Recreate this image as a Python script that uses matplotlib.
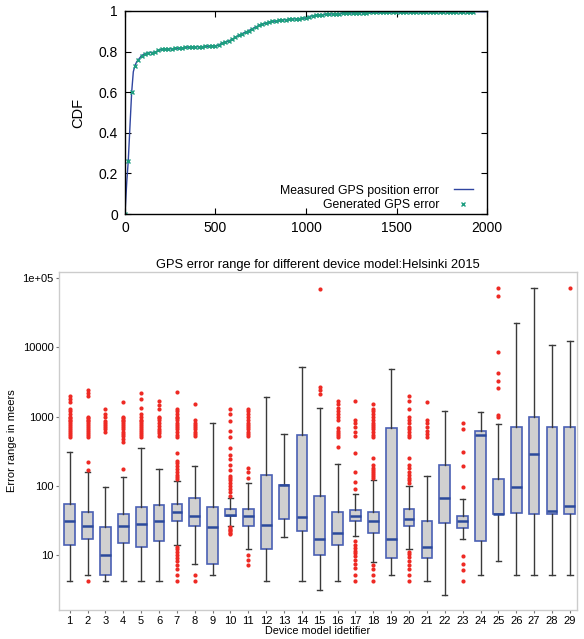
import matplotlib
matplotlib.use("Agg")
import matplotlib.pyplot as plt
import numpy as np

plt.rcParams['font.family'] = ['Liberation Sans', 'DejaVu Sans']

# ---------------- CDF data ----------------
meas_x = [0, 10, 18, 28, 37, 46, 55, 65, 74, 92, 111, 129, 148, 166, 185, 203, 240, 277,
          314, 351, 388, 425, 462, 499, 518, 536, 555, 573, 592, 610, 629, 647, 666, 684,
          703, 721, 740, 758, 777, 795, 832, 869, 906, 943, 980, 999, 1017, 1036, 1054,
          1073, 1110, 1147, 1184, 1239, 1300, 1400, 1500, 1700, 1924, 2000]
meas_y = [0.0, 0.16, 0.26, 0.44, 0.60, 0.70, 0.73, 0.75, 0.76, 0.78, 0.79, 0.795, 0.795,
          0.797, 0.805, 0.81, 0.812, 0.815, 0.818, 0.822, 0.823, 0.824, 0.826, 0.828,
          0.832, 0.842, 0.848, 0.852, 0.86, 0.87, 0.88, 0.888, 0.895, 0.903, 0.912, 0.92,
          0.928, 0.935, 0.94, 0.945, 0.95, 0.955, 0.958, 0.961, 0.963, 0.965, 0.972,
          0.976, 0.978, 0.98, 0.983, 0.985, 0.987, 0.989, 0.991, 0.993, 0.994, 0.995,
          0.996, 0.996]

gen_x = [0, 18, 37, 55, 74, 92, 111, 129, 148, 166, 185, 203, 222, 240, 259, 277, 296, 314,
         333, 351, 370, 388, 407, 425, 444, 462, 481, 499, 518, 536, 555, 573, 592, 610,
         629, 647, 666, 684, 703, 721, 740, 758, 777, 795, 814, 832, 851, 869, 888, 906,
         925, 943, 962, 980, 999, 1017, 1036, 1054, 1073, 1091, 1110, 1128, 1147, 1165,
         1184, 1202, 1221, 1239, 1258, 1276, 1295, 1313, 1332, 1350, 1369, 1387, 1406,
         1424, 1443, 1461, 1480, 1498, 1517, 1535, 1554, 1572, 1591, 1609, 1628, 1646,
         1665, 1683, 1702, 1720, 1739, 1757, 1776, 1794, 1813, 1831, 1850, 1868, 1887,
         1905, 1924]
gen_y = [0.0, 0.26, 0.60, 0.73, 0.76, 0.78, 0.79, 0.795, 0.795, 0.797, 0.805, 0.81, 0.81,
         0.812, 0.812, 0.815, 0.817, 0.818, 0.82, 0.822, 0.823, 0.823, 0.824, 0.824,
         0.825, 0.826, 0.827, 0.828, 0.832, 0.842, 0.848, 0.852, 0.86, 0.87, 0.88, 0.888,
         0.895, 0.903, 0.912, 0.92, 0.928, 0.935, 0.94, 0.945, 0.948, 0.95, 0.953, 0.955,
         0.957, 0.958, 0.96, 0.961, 0.962, 0.963, 0.965, 0.972, 0.976, 0.978, 0.98,
         0.982, 0.983, 0.984, 0.985, 0.986, 0.987, 0.988, 0.988, 0.989, 0.989, 0.99,
         0.991, 0.991, 0.991, 0.992, 0.992, 0.993, 0.993, 0.993, 0.993, 0.994, 0.994,
         0.994, 0.994, 0.994, 0.995, 0.995, 0.995, 0.995, 0.995, 0.995, 0.995, 0.995,
         0.996, 0.996, 0.996, 0.996, 0.996, 0.996, 0.996, 0.996, 0.996, 0.996, 0.996,
         0.996, 0.996]

# ---------------- Box plot data ----------------
devices = list(range(1, 30))
q1 = [14, 17, 5.2, 14.9, 13, 16, 31, 26, 7.4, 36, 26, 12, 33, 22, 10, 14, 31, 21, 8.9,
      26, 8.9, 29, 24.7, 16, 38.5, 40.7, 39.5, 38.5, 38.5]
med = [31, 25.9, 10, 26, 27.9, 31, 41.6, 37, 25, 38, 37, 27, 104, 35, 16.8, 21, 36, 31,
       17, 33, 13, 65.5, 31, 540, 39.5, 97, 288, 43.6, 51]
q3 = [54, 41.6, 25, 38.5, 49.7, 52.5, 54, 66, 48.5, 46.4, 46, 144, 104, 540, 71.5, 42, 45,
      42, 680, 45.5, 31, 200, 37, 620, 126, 711, 990, 700, 715]
whis_lo = [4.2, 5.2, 4.2, 4.2, 4.2, 4.2, 14, 7.4, 5.2, 26, 12, 4.2, 18, 4.2, 3.1, 4.2,
           18.8, 8, 5.2, 12, 4.2, 2.6, 17.2, 5.2, 8.2, 5.2, 5.2, 5.2, 5.2]
whis_hi = [307, 160, 97, 134, 347, 175, 119, 191, 794, 65.5, 110, 1940, 558, 5250, 1333,
           209, 75.5, 121, 4800, 98, 137, 1200, 65, 1160, 780, 22500, 71700, 11000, 12200]
outliers = [
    [500, 540, 580, 620, 660, 700, 750, 800, 850, 900, 950, 1000, 1100, 1200, 1300, 1600, 1800, 2000],
    [4.2, 170, 220, 500, 540, 580, 620, 660, 700, 750, 800, 850, 900, 950, 1000, 2000, 2200, 2400],
    [600, 650, 700, 750, 800, 850, 1000, 1100, 1300],
    [175, 430, 470, 520, 560, 600, 650, 700, 750, 800, 850, 900, 950, 1000, 1650],
    [500, 540, 580, 620, 660, 700, 750, 800, 850, 900, 1000, 1100, 1350, 1800, 2200],
    [530, 580, 620, 660, 720, 800, 900, 950, 1000, 1300, 1450, 1700],
    [4.2, 5.2, 6.2, 7.2, 8.2, 9, 10, 11, 12, 13, 125, 135, 145, 160, 175, 190, 210, 230, 300,
     500, 550, 600, 650, 700, 760, 820, 880, 950, 1000, 1100, 1200, 1300, 2300],
    [4.2, 5.2, 520, 560, 600, 650, 700, 760, 820, 900, 1500],
    [],
    [20, 21, 22, 23, 24, 25, 70, 80, 90, 100, 110, 120, 130, 140, 170, 200, 240, 280, 350,
     500, 620, 850, 1100, 1300],
    [7.2, 8.5, 10, 130, 160, 180, 520, 560, 600, 650, 700, 760, 820, 900, 1000, 1100, 1200, 1300],
    [],
    [],
    [],
    [2100, 2400, 2700, 70000],
    [360, 500, 540, 580, 620, 680, 900, 1000, 1100, 1200, 1350, 1500, 1700],
    [4.2, 5.2, 6.5, 7.5, 8.5, 9.5, 10.5, 11.5, 12.5, 14, 16, 90, 115, 160, 300, 520, 600,
     700, 800, 900, 1700],
    [4.2, 5.2, 6.2, 7.2, 130, 140, 150, 160, 170, 180, 200, 250, 500, 550, 600, 650, 700,
     750, 800, 900, 1000, 1100, 1200, 1300, 1500],
    [],
    [4.2, 5.2, 6.2, 7.2, 8.2, 9.2, 10.2, 11, 110, 120, 130, 145, 160, 180, 200, 250, 500,
     550, 600, 650, 700, 800, 900, 1000, 1300, 1700, 2000],
    [500, 560, 620, 700, 800, 900, 1600],
    [],
    [4.2, 6, 7.4, 9.5, 97, 193, 303, 670, 820],
    [],
    [970, 1060, 2570, 3250, 4300, 8500, 54500, 71700],
    [],
    [],
    [],
    [72000],
]
ytick_vals = [10, 100, 1000, 10000, 100000]
ytick_labels = ["10", "100", "1000", "10000", "1e+05"]

# ---------------- Figure ----------------
fig = plt.figure(figsize=(5.84, 6.39), dpi=100)

# Top: CDF
ax1 = fig.add_axes([0.214, 0.665, 0.620, 0.318])
ax1.plot(meas_x, meas_y, color='#2f45a0', lw=1.0, label='Measured GPS position error')
ax1.plot(gen_x, gen_y, ls='none', marker='x', ms=3, mew=1.0, color='#1e9e80',
         label='Generated GPS error')
ax1.set_xlim(0, 2000)
ax1.set_ylim(0, 1)
ax1.set_xticks([0, 500, 1000, 1500, 2000])
ax1.set_yticks([0, 0.2, 0.4, 0.6, 0.8, 1])
ax1.set_yticklabels(["0", "0.2", "0.4", "0.6", "0.8", "1"])
ax1.tick_params(direction='in', top=True, right=True, length=4, labelsize=10, pad=5)
ax1.set_ylabel('CDF', fontsize=10.5, labelpad=10)
for s in ax1.spines.values():
    s.set_linewidth(1.0)
leg = ax1.legend(loc='lower right', frameon=False, markerfirst=False, fontsize=8.8,
                 handlelength=1.6, handletextpad=1.2, borderaxespad=0.0,
                 labelspacing=0.2, bbox_to_anchor=(0.975, -0.01))

# Bottom: box plot
ax2 = fig.add_axes([0.101, 0.0454, 0.887, 0.529])
stats = []
for i in range(len(devices)):
    stats.append(dict(med=med[i], q1=q1[i], q3=q3[i], whislo=whis_lo[i],
                      whishi=whis_hi[i], fliers=outliers[i], label=str(devices[i])))
ax2.bxp(stats, positions=devices, widths=0.6, capwidths=0.3, patch_artist=True,
        showfliers=True,
        boxprops=dict(facecolor='#d0d0d0', edgecolor='#4a60b4', linewidth=1.2),
        medianprops=dict(color='#2b4a9c', linewidth=1.8),
        whiskerprops=dict(color='#3a3a3a', linewidth=1.0),
        capprops=dict(color='#3a3a3a', linewidth=1.0),
        flierprops=dict(marker='o', markersize=3, markerfacecolor='#ee2a24',
                        markeredgecolor='none', linestyle='none'))
ax2.set_yscale('log')
ax2.set_ylim(1.6, 123000)
ax2.set_xlim(0.4, 29.4)
ax2.set_yticks(ytick_vals)
ax2.set_yticklabels(ytick_labels)
ax2.minorticks_off()
ax2.set_xticks(devices)
ax2.set_xticklabels([str(d) for d in devices])
ax2.tick_params(axis='both', direction='out', length=2.5, color='#777777', labelsize=8,
                pad=1.5)
for s in ax2.spines.values():
    s.set_color('#cccccc')
    s.set_linewidth(1.0)
ax2.set_title('GPS error range for different device model:Helsinki 2015', fontsize=9.3,
              pad=3)
ax2.set_ylabel('Error range in meers', fontsize=8, labelpad=4)
ax2.set_xlabel('Device model idetifier', fontsize=7.8, labelpad=0)

fig.savefig('out.png', dpi=100)
